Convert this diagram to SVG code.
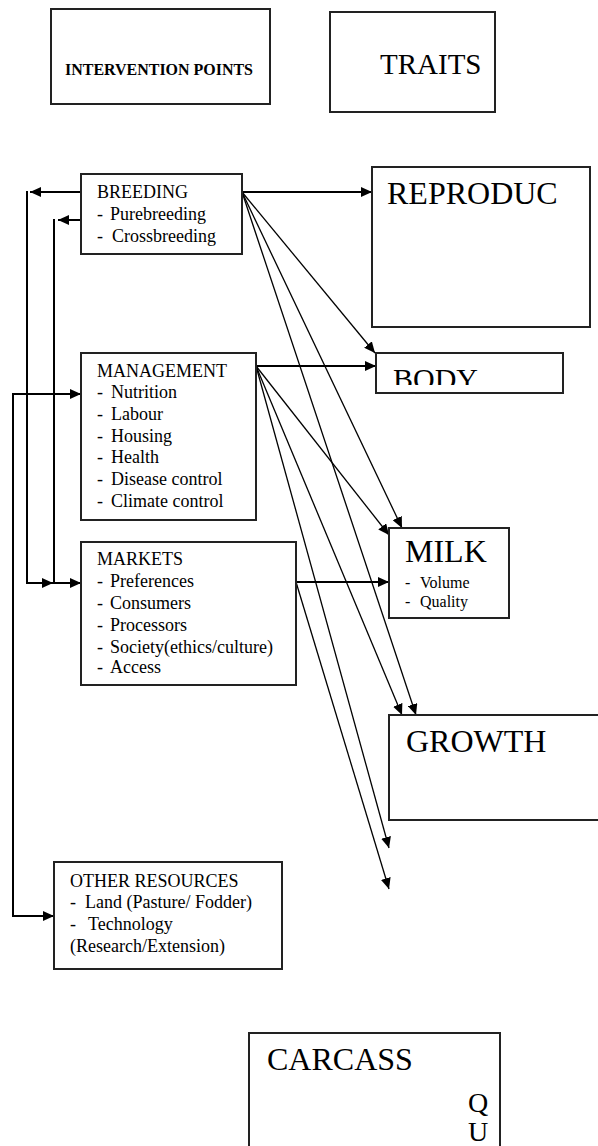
<svg xmlns="http://www.w3.org/2000/svg" width="598" height="1146" viewBox="0 0 598 1146">
<style>
.box{fill:#fff;stroke:#222;stroke-width:2}
.t{font-family:"Liberation Serif","Times New Roman",serif;fill:#000}
.s{font-size:18px}
.xs{font-size:16px}
.big{font-size:32px}
.c{fill:none;stroke:#000}
.h{stroke-width:2}
.d{stroke-width:1.3}
</style>
<defs>
<marker id="ah" markerUnits="userSpaceOnUse" markerWidth="12" markerHeight="10" refX="11" refY="5" orient="auto">
<path d="M0,0 L11,5 L0,10 z" fill="#000"/>
</marker>
<clipPath id="bodyclip"><rect x="376" y="354" width="187" height="31"/></clipPath>
</defs>
<rect width="598" height="1146" fill="#fff"/>

<g id="connectors">
<path class="c h" d="M242,192 H372" marker-end="url(#ah)"/>
<path class="c d" d="M242,192 L375,353" marker-end="url(#ah)"/>
<path class="c d" d="M242,192 L402,528" marker-end="url(#ah)"/>
<path class="c d" d="M242,192 L416,715" marker-end="url(#ah)"/>
<path class="c h" d="M256,366 H376" marker-end="url(#ah)"/>
<path class="c d" d="M256,366 L389,535" marker-end="url(#ah)"/>
<path class="c d" d="M256,366 L402,715" marker-end="url(#ah)"/>
<path class="c d" d="M256,366 L389,848" marker-end="url(#ah)"/>
<path class="c h" d="M296,582 H389" marker-end="url(#ah)"/>
<path class="c d" d="M296,582 L389,889" marker-end="url(#ah)"/>
<path class="c h" d="M81,192 H30" marker-end="url(#ah)"/>
<path class="c h" d="M27,191 V583 H53" marker-end="url(#ah)"/>
<path class="c h" d="M81,220 H58" marker-end="url(#ah)"/>
<path class="c h" d="M54,219 V583 H81" marker-end="url(#ah)"/>
<path class="c h" d="M13,394 H81" marker-end="url(#ah)"/>
<path class="c h" d="M13,393 V916 H54" marker-end="url(#ah)"/>
</g>

<g id="intervention">
<rect class="box" x="51" y="9" width="219" height="95"/>
<text class="t" x="65" y="75" font-size="17" font-weight="bold" textLength="188" lengthAdjust="spacingAndGlyphs">INTERVENTION POINTS</text>
</g>

<g id="traits">
<rect class="box" x="330" y="12" width="165" height="100"/>
<text class="t" x="380" y="74" font-size="29">TRAITS</text>
</g>

<g id="breeding">
<rect class="box" x="81" y="174" width="161" height="80"/>
<text class="t s" x="97" y="198">BREEDING</text>
<text class="t s" x="97" y="220">-</text><text class="t s" x="110" y="220">Purebreeding</text>
<text class="t s" x="97" y="242">-</text><text class="t s" x="112" y="242">Crossbreeding</text>
</g>

<g id="management">
<rect class="box" x="81" y="353" width="175" height="167"/>
<text class="t s" x="97" y="377">MANAGEMENT</text>
<text class="t s" x="97" y="398">-</text><text class="t s" x="111" y="398">Nutrition</text>
<text class="t s" x="97" y="420">-</text><text class="t s" x="111" y="420">Labour</text>
<text class="t s" x="97" y="442">-</text><text class="t s" x="111" y="442">Housing</text>
<text class="t s" x="97" y="463">-</text><text class="t s" x="111" y="463">Health</text>
<text class="t s" x="97" y="485">-</text><text class="t s" x="111" y="485">Disease control</text>
<text class="t s" x="97" y="507">-</text><text class="t s" x="111" y="507">Climate control</text>
</g>

<g id="markets">
<rect class="box" x="81" y="542" width="215" height="143"/>
<text class="t s" x="97" y="565">MARKETS</text>
<text class="t s" x="97" y="587">-</text><text class="t s" x="110" y="587">Preferences</text>
<text class="t s" x="97" y="609">-</text><text class="t s" x="110" y="609">Consumers</text>
<text class="t s" x="97" y="631">-</text><text class="t s" x="110" y="631">Processors</text>
<text class="t s" x="97" y="653">-</text><text class="t s" x="110" y="653">Society(ethics/culture)</text>
<text class="t s" x="97" y="673">-</text><text class="t s" x="110" y="673">Access</text>
</g>

<g id="other-resources">
<rect class="box" x="54" y="862" width="228" height="107"/>
<text class="t s" x="70" y="887">OTHER RESOURCES</text>
<text class="t s" x="70" y="908">-</text><text class="t s" x="85" y="908">Land (Pasture/ Fodder)</text>
<text class="t s" x="70" y="930">-</text><text class="t s" x="88" y="930">Technology</text>
<text class="t s" x="70" y="952">(Research/Extension)</text>
</g>

<g id="reproduc">
<rect class="box" x="372" y="167" width="218" height="160"/>
<text class="t big" x="387" y="204">REPRODUC</text>
</g>

<g id="body">
<rect class="box" x="376" y="353" width="187" height="40"/>
<text class="t" x="393" y="389" font-size="30" clip-path="url(#bodyclip)">BODY</text>
</g>

<g id="milk">
<rect class="box" x="389" y="528" width="120" height="90"/>
<text class="t big" x="405" y="562">MILK</text>
<text class="t xs" x="405" y="588">-</text><text class="t xs" x="420" y="588">Volume</text>
<text class="t xs" x="405" y="607">-</text><text class="t xs" x="420" y="607">Quality</text>
</g>

<g id="growth">
<rect class="box" x="389" y="715" width="220" height="105"/>
<text class="t big" x="406" y="752">GROWTH</text>
</g>

<g id="carcass">
<rect class="box" x="249" y="1033" width="251" height="130"/>
<text class="t big" x="267" y="1070">CARCASS</text>
<text class="t" x="468" y="1112" font-size="28">Q</text>
<text class="t" x="468" y="1141" font-size="28">U</text>
</g>
</svg>
